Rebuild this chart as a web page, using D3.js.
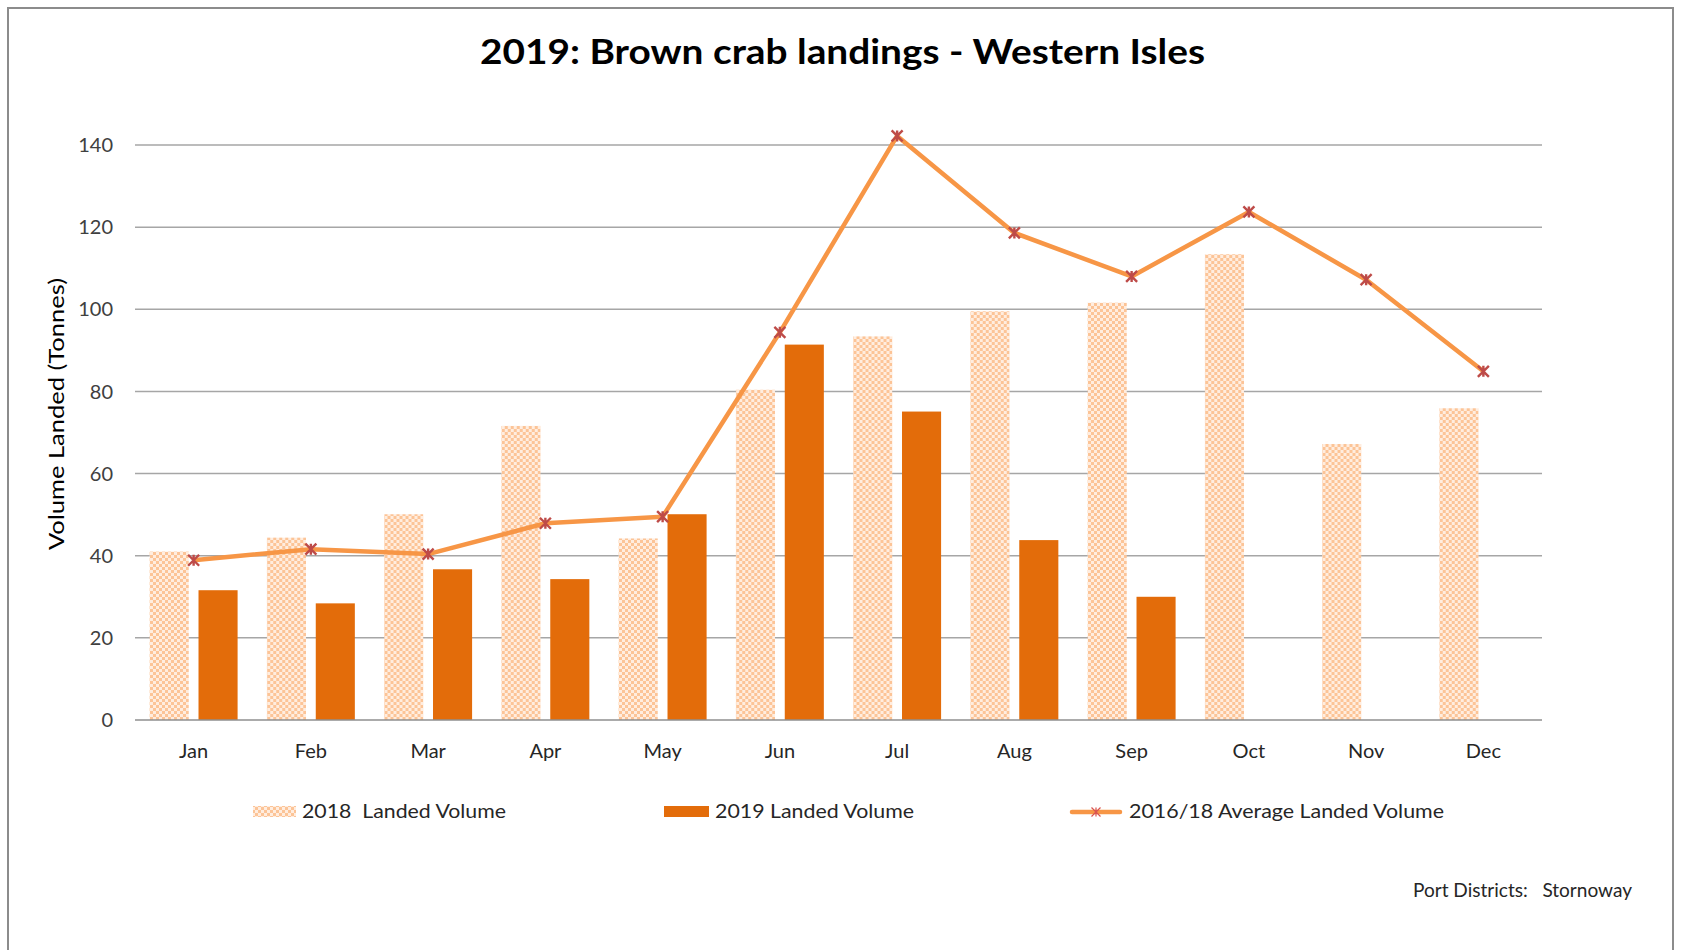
<!DOCTYPE html>
<html>
<head>
<meta charset="utf-8">
<script src="https://cdn.jsdelivr.net/npm/d3@7"></script>
<style>
  body { margin: 0; background: #fff; }
  text { font-family: Lato, "Open Sans", sans-serif; }
</style>
</head>
<body>
<svg width="1681" height="950"></svg>
<script>
const months = ['Jan','Feb','Mar','Apr','May','Jun','Jul','Aug','Sep','Oct','Nov','Dec'];
const landed2018 = [41.0, 44.4, 50.1, 71.6, 44.2, 80.4, 93.4, 99.5, 101.6, 113.4, 67.2, 75.9];
const landed2019 = [31.6, 28.4, 36.7, 34.3, 50.1, 91.4, 75.1, 43.8, 30.0, null, null, null];
const avg1618 = [38.9, 41.6, 40.4, 47.9, 49.5, 94.4, 142.2, 118.6, 108.0, 123.7, 107.2, 84.9];
const yTicks = [0, 20, 40, 60, 80, 100, 120, 140];

const svg = d3.select('svg');

// stretch or squeeze a text to the width it has in the reference
function fit(t, w) {
  t.attr('textLength', w).attr('lengthAdjust', 'spacingAndGlyphs');
  return t;
}

// chart frame
svg.append('rect')
  .attr('x', 8).attr('y', 8)
  .attr('width', 1665).attr('height', 960)
  .attr('fill', 'none')
  .attr('stroke', '#8c8c8c')
  .attr('stroke-width', 2);

// checker pattern for the 2018 bars
const pat = svg.append('defs').append('pattern')
  .attr('id', 'checks')
  .attr('width', 6).attr('height', 6)
  .attr('patternUnits', 'userSpaceOnUse');
pat.append('rect').attr('width', 6).attr('height', 6).attr('fill', '#ffeddf');
pat.append('rect').attr('width', 3).attr('height', 3).attr('fill', '#fcc497');
pat.append('rect').attr('x', 3).attr('y', 3).attr('width', 3).attr('height', 3).attr('fill', '#fcc497');

const x = d3.scaleBand().domain(months).range([135, 1542]);
const xs = d3.scaleBand().domain(['a', 'b']).range([0, x.bandwidth()])
  .paddingInner(0.2).paddingOuter(0.3);
const y = d3.scaleLinear().domain([0, 140]).range([720, 145]);

// gridlines
svg.append('g')
  .selectAll('line')
  .data(yTicks.filter(d => d > 0))
  .join('line')
  .attr('x1', 135).attr('x2', 1542)
  .attr('y1', d => y(d)).attr('y2', d => y(d))
  .attr('stroke', '#a6a6a6')
  .attr('stroke-width', 1.5);

// y tick labels
svg.append('g')
  .selectAll('text')
  .data(yTicks)
  .join('text')
  .attr('x', 113)
  .attr('y', d => y(d))
  .attr('dy', '0.36em')
  .attr('text-anchor', 'end')
  .attr('font-size', 20)
  .attr('fill', '#404040')
  .text(d => d);

// bars
const groups = svg.append('g')
  .selectAll('g')
  .data(months)
  .join('g')
  .attr('transform', d => `translate(${x(d)},0)`);

groups.append('rect')
  .attr('x', xs('a'))
  .attr('width', xs.bandwidth())
  .attr('y', (d, i) => y(landed2018[i]))
  .attr('height', (d, i) => y(0) - y(landed2018[i]))
  .attr('fill', 'url(#checks)');

groups.filter((d, i) => landed2019[i] != null)
  .append('rect')
  .attr('x', xs('b'))
  .attr('width', xs.bandwidth())
  .attr('y', d => y(landed2019[months.indexOf(d)]))
  .attr('height', d => y(0) - y(landed2019[months.indexOf(d)]))
  .attr('fill', '#e36c0a');

// zero axis line
svg.append('line')
  .attr('x1', 135).attr('x2', 1542)
  .attr('y1', y(0)).attr('y2', y(0))
  .attr('stroke', '#8f8f8f')
  .attr('stroke-width', 1.5);

// x labels
svg.append('g')
  .selectAll('text')
  .data(months)
  .join('text')
  .attr('x', d => x(d) + x.bandwidth() / 2)
  .attr('y', 758)
  .attr('text-anchor', 'middle')
  .attr('font-size', 20)
  .attr('fill', '#262626')
  .text(d => d);

// average line
const cx = i => x(months[i]) + x.bandwidth() / 2;
const line = d3.line()
  .x((d, i) => cx(i))
  .y(d => y(d));

svg.append('path')
  .datum(avg1618)
  .attr('d', line)
  .attr('fill', 'none')
  .attr('stroke', '#f79646')
  .attr('stroke-width', 4.5)
  .attr('stroke-linejoin', 'round');

function star(r) {
  return `M${-r},${-r}L${r},${r}M${-r},${r}L${r},${-r}M0,${-r}L0,${r}`;
}

svg.append('g')
  .selectAll('path')
  .data(avg1618)
  .join('path')
  .attr('transform', (d, i) => `translate(${cx(i)},${y(d)})`)
  .attr('d', star(5.5))
  .attr('fill', 'none')
  .attr('stroke', '#be4b48')
  .attr('stroke-width', 2.4);

// title
fit(svg.append('text')
  .attr('x', 480)
  .attr('y', 64)
  .attr('font-size', 35)
  .attr('font-weight', 'bold')
  .attr('fill', '#000')
  .text('2019: Brown crab landings - Western Isles'), 725);

// y axis title
fit(svg.append('text')
  .attr('transform', 'translate(64,414) rotate(-90)')
  .attr('text-anchor', 'middle')
  .attr('font-size', 21)
  .attr('fill', '#000')
  .text('Volume Landed (Tonnes)'), 272);

// legend
const legend = svg.append('g');
legend.append('rect')
  .attr('x', 253).attr('y', 806).attr('width', 43).attr('height', 11)
  .attr('fill', 'url(#checks)');
fit(legend.append('text')
  .attr('x', 302).attr('y', 818)
  .attr('font-size', 20).attr('fill', '#262626')
  .attr('xml:space', 'preserve')
  .text('2018  Landed Volume'), 204);

legend.append('rect')
  .attr('x', 664).attr('y', 806).attr('width', 45).attr('height', 11)
  .attr('fill', '#e36c0a');
fit(legend.append('text')
  .attr('x', 715).attr('y', 818)
  .attr('font-size', 20).attr('fill', '#262626')
  .text('2019 Landed Volume'), 199);

legend.append('line')
  .attr('x1', 1072).attr('x2', 1120)
  .attr('y1', 812).attr('y2', 812)
  .attr('stroke', '#f79646')
  .attr('stroke-width', 4.5)
  .attr('stroke-linecap', 'round');
legend.append('path')
  .attr('transform', 'translate(1096,812)')
  .attr('d', star(4.5))
  .attr('fill', 'none')
  .attr('stroke', '#d9534f')
  .attr('stroke-width', 1.2);
fit(legend.append('text')
  .attr('x', 1129).attr('y', 818)
  .attr('font-size', 20).attr('fill', '#262626')
  .text('2016/18 Average Landed Volume'), 315);

// footnote
fit(svg.append('text')
  .attr('x', 1413).attr('y', 897)
  .attr('font-size', 19).attr('fill', '#262626')
  .attr('xml:space', 'preserve')
  .text('Port Districts:   Stornoway'), 219);
</script>
</body>
</html>
